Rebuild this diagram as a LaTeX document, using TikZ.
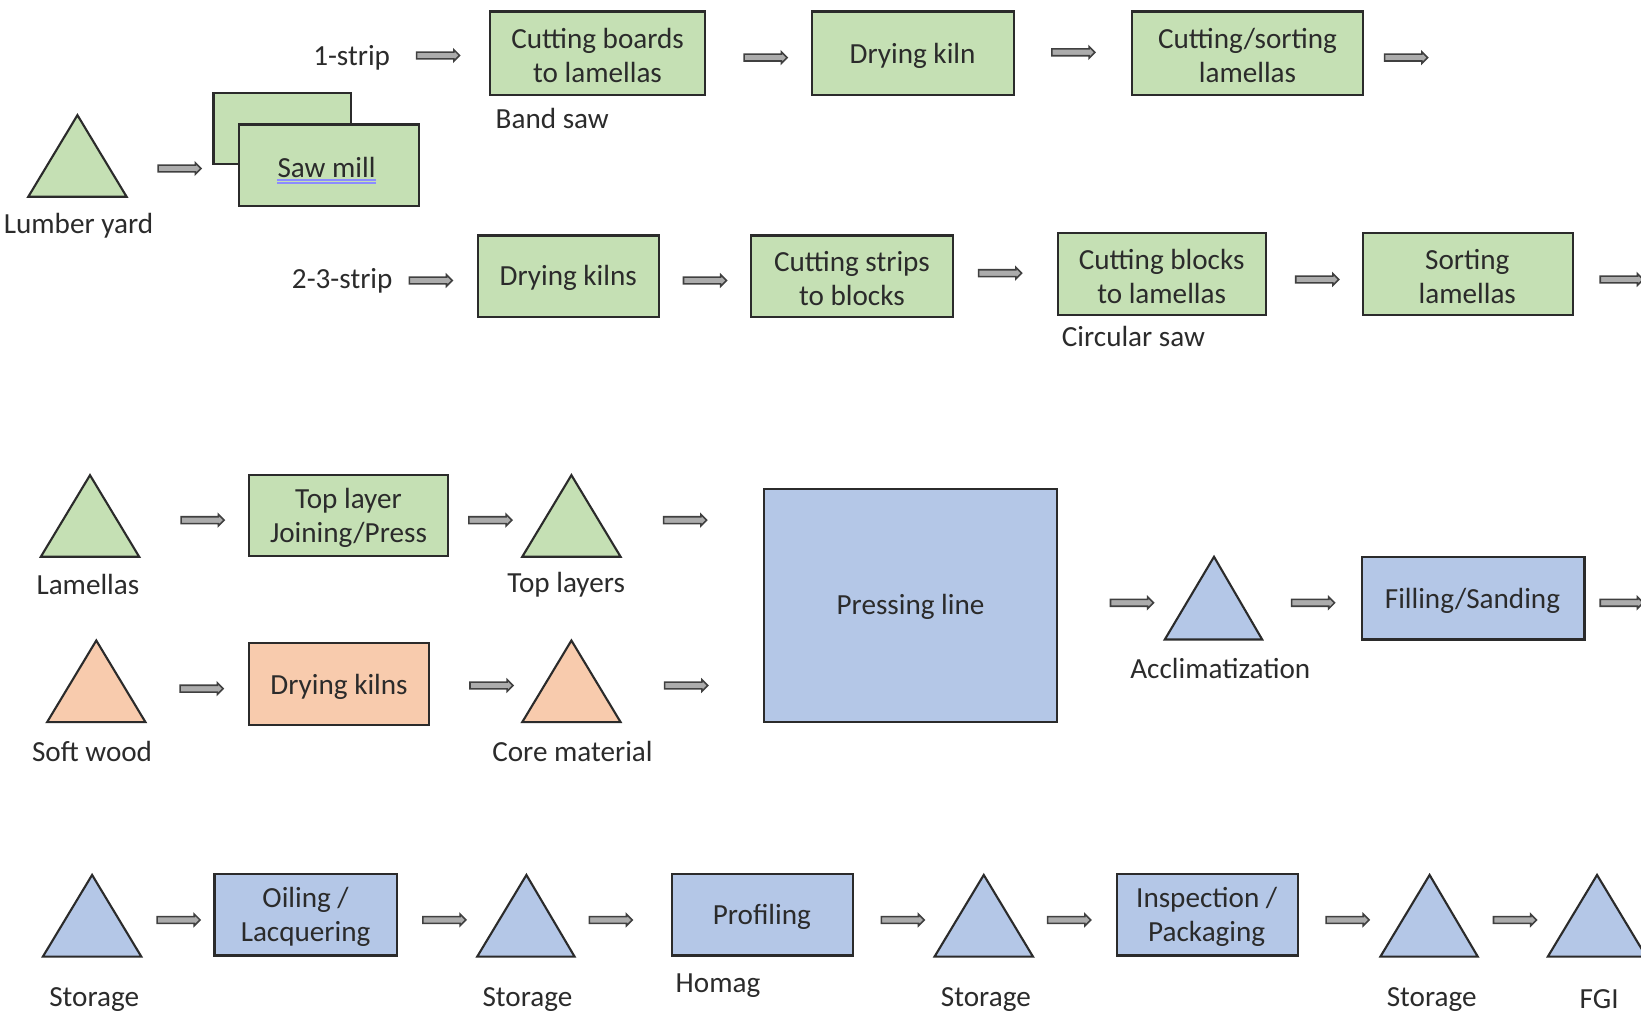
\documentclass[tikz,border=0pt]{standalone}
\usepackage{fontspec}
\setmainfont{Carlito}
\usetikzlibrary{shapes.arrows}
\definecolor{greenfill}{HTML}{C5E0B4}
\definecolor{bluefill}{HTML}{B4C7E7}
\definecolor{orangefill}{HTML}{F8CBAD}
\definecolor{ink}{HTML}{2B2B2B}
\tikzset{
  greenbox/.style={fill=greenfill,draw=ink,line width=0.6pt},
  bluebox/.style={fill=bluefill,draw=ink,line width=0.6pt},
  orangebox/.style={fill=orangefill,draw=ink,line width=0.6pt},
  boxtext/.style={align=center,text=ink,inner sep=0pt,yshift=-0.02cm,font=\fontsize{8.3}{9.6}\selectfont},
  lbl/.style={text=ink,inner sep=0pt,yshift=-0.02cm,font=\fontsize{8.3}{9.6}\selectfont},
  flowarrow/.style={single arrow,draw=ink!90,fill=gray!65,line width=0.45pt,
    inner xsep=0pt,inner ysep=0.026cm,single arrow head extend=0.024cm,
    minimum height=0.43cm}
}

\begin{document}
\begin{tikzpicture}[x=0.0104656cm,y=-0.0104656cm]
        \useasboundingbox (0,0) rectangle (1568,973);
        %
        % Strip lines
        \filldraw[greenbox] (74,110) -- ++(47,78) -- ++(-94,0) -- cycle; % Lumber yard
        \node[lbl] (lumberyard) at (75,214) {Lumber yard};
        \node[flowarrow] (a0) at (170,161) {};
        \filldraw[greenbox] (204,89) rectangle (335,157);
        \filldraw[greenbox] (228,119) rectangle (400,197);
        \node[boxtext] (sawmill) at (312,158) {Saw mill};
        \draw[blue!45,line width=0.5pt] (265,172) -- (359,172);
        \draw[blue!45,line width=0.5pt] (265,175) -- (359,175);
        %
        \node[lbl] (strip1) at (336,53) {1-strip};
        \node[flowarrow] (a1) at (417,53) {};
        \filldraw[greenbox] (468,11) rectangle (674,91);
        \node[boxtext] (cutboards) at (571,51) {Cutting boards\\to lamellas};
        \node[lbl,anchor=west] (bandsaw) at (473,111) {Band saw};
        \node[flowarrow] (a2) at (730,55) {};
        \filldraw[greenbox] (776,11) rectangle (969,91);
        \node[boxtext] (dryingkiln) at (872,51) {Drying kiln};
        \node[flowarrow] (a3) at (1024,50) {};
        \filldraw[greenbox] (1082,11) rectangle (1302,91);
        \node[boxtext] (cutsort) at (1192,51) {Cutting/sorting\\lamellas};
        \node[flowarrow] (a4) at (1342,55) {};
        %
        \node[lbl] (strip23) at (327,266) {2-3-strip};
        \node[flowarrow] (a5) at (410,268) {};
        \filldraw[greenbox] (457,225) rectangle (630,303);
        \node[boxtext] (dryingkilns) at (543,264) {Drying kilns};
        \node[flowarrow] (a6) at (672,268) {};
        \filldraw[greenbox] (718,225) rectangle (911,303);
        \node[boxtext] (cutstrips) at (814,264) {Cutting strips\\to blocks};
        \node[flowarrow] (a7) at (954,261) {};
        \filldraw[greenbox] (1011,223) rectangle (1210,301);
        \node[boxtext] (cutblocks) at (1110,262) {Cutting blocks\\to lamellas};
        \node[lbl,anchor=west] (circsaw) at (1014,320) {Circular saw};
        \node[flowarrow] (a8) at (1257,267) {};
        \filldraw[greenbox] (1302,223) rectangle (1503,301);
        \node[boxtext] (sorting) at (1402,262) {Sorting\\lamellas};
        \node[flowarrow] (a9) at (1548,267) {};
        %
        % Pressing
        \filldraw[greenbox] (86,454) -- ++(47,78) -- ++(-94,0) -- cycle; % Lamellas
        \node[lbl] (lamellas) at (84,557) {Lamellas};
        \node[flowarrow] (a10) at (192,497) {};
        \filldraw[greenbox] (238,454) rectangle (428,531);
        \node[boxtext] (toplayer) at (333,493) {Top layer\\Joining/Press};
        \node[flowarrow] (a11) at (467,497) {};
        \filldraw[greenbox] (546,454) -- ++(47,78) -- ++(-94,0) -- cycle; % Top layers
        \node[lbl] (toplayers) at (541,557) {Top layers};
        \node[flowarrow] (a12) at (653,497) {};
        %
        \filldraw[orangebox] (92,612) -- ++(47,78) -- ++(-94,0) -- cycle; % Soft wood
        \node[lbl] (softwood) at (88,716) {Soft wood};
        \node[flowarrow] (a13) at (191,658) {};
        \filldraw[orangebox] (238,614) rectangle (410,693);
        \node[boxtext] (dryingsoft) at (324,654) {Drying kilns};
        \node[flowarrow] (a14) at (468,655) {};
        \filldraw[orangebox] (546,612) -- ++(47,78) -- ++(-94,0) -- cycle; % Core material
        \node[lbl] (core) at (547,716) {Core material};
        \node[flowarrow] (a15) at (654,655) {};
        %
        \filldraw[bluebox] (730,467) rectangle (1010,690);
        \node[boxtext] (pressing) at (870,578) {Pressing line};
        \node[flowarrow] (a16) at (1080,576) {};
        \filldraw[bluebox] (1160,532) -- ++(46,79) -- ++(-93,0) -- cycle; % Acclimatization
        \node[lbl] (acclim) at (1166,637) {Acclimatization};
        \node[flowarrow] (a17) at (1253,576) {};
        \filldraw[bluebox] (1301,532) rectangle (1514,611);
        \node[boxtext] (filling) at (1407,572) {Filling/Sanding};
        \node[flowarrow] (a18) at (1548,576) {};
        %
        % Finishing
        \filldraw[bluebox] (88,836) -- ++(47,78) -- ++(-94,0) -- cycle;
        \node[lbl] (storage1) at (90,953) {Storage};
        \node[flowarrow] (a19) at (169,879) {};
        \filldraw[bluebox] (205,835) rectangle (379,913);
        \node[boxtext] (oiling) at (292,874) {Oiling /\\Lacquering};
        \node[flowarrow] (a20) at (423,879) {};
        \filldraw[bluebox] (503,836) -- ++(46,78) -- ++(-93,0) -- cycle;
        \node[lbl] (storage2) at (504,953) {Storage};
        \node[flowarrow] (a21) at (582,879) {};
        \filldraw[bluebox] (642,835) rectangle (815,913);
        \node[boxtext] (profiling) at (728,874) {Profiling};
        \node[lbl,anchor=west] (homag) at (645,940) {Homag};
        \node[flowarrow] (a22) at (861,879) {};
        \filldraw[bluebox] (940,836) -- ++(47,78) -- ++(-94,0) -- cycle;
        \node[lbl] (storage3) at (942,953) {Storage};
        \node[flowarrow] (a23) at (1020,879) {};
        \filldraw[bluebox] (1067,835) rectangle (1240,913);
        \node[boxtext] (inspection) at (1153,874) {Inspection /\\Packaging};
        \node[flowarrow] (a24) at (1286,879) {};
        \filldraw[bluebox] (1366,836) -- ++(46,78) -- ++(-93,0) -- cycle;
        \node[lbl] (storage4) at (1368,953) {Storage};
        \node[flowarrow] (a25) at (1446,879) {};
        \filldraw[bluebox] (1526,836) -- ++(47,78) -- ++(-94,0) -- cycle;
        \node[lbl] (fgi) at (1528,953) {FGI};
      \end{tikzpicture}
\end{document}
